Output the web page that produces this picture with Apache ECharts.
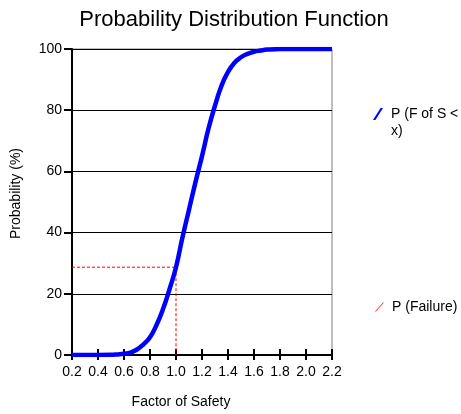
<!DOCTYPE html>
<html>
<head>
<meta charset="utf-8">
<script src="https://cdn.jsdelivr.net/npm/echarts@6/dist/echarts.min.js"></script>
<style>
html,body{margin:0;padding:0;background:#fff;}
#c{width:461px;height:414px;}
</style>
</head>
<body>
<div id="c"></div>
<script>
const titleText = 'Probability Distribution Function';
const xName = 'Factor of Safety';
const yName = 'Probability (%)';
const cdfName = 'P (F of S < x)';
const cdfLegendLine1 = 'P (F of S <';
const cdfLegendLine2 = 'x)';
const failName = 'P (Failure)';
const factorOfSafety = [0.2, 0.3, 0.4, 0.5, 0.55, 0.6, 0.65, 0.7, 0.75, 0.8, 0.85, 0.9, 0.95, 1.0, 1.05, 1.1, 1.15, 1.2, 1.25, 1.3, 1.35, 1.4, 1.45, 1.5, 1.55, 1.6, 1.65, 1.7, 1.8, 1.9, 2.0, 2.1, 2.2];
const probability = [0, 0, 0, 0.05, 0.2, 0.4, 0.8, 1.8, 3.5, 5.8, 9.8, 15, 21.5, 28.7, 38.5, 47.5, 56.5, 65, 74, 81.5, 88, 92.5, 95.5, 97.3, 98.4, 99.1, 99.5, 99.8, 100, 100, 100, 100, 100];
const failureX = [0.2, 1.0, 1.0];
const failureY = [28.7, 28.7, 0];

const chart = echarts.init(document.getElementById('c'));
const font = 'Liberation Sans, Arial, sans-serif';
chart.setOption({
  animation: false,
  backgroundColor: '#fff',
  textStyle: {fontFamily: font, color: '#000'},
  title: {
    text: titleText, left: 229, top: 4, textAlign: 'center',
    textStyle: {fontSize: 22, fontWeight: 'normal', color: '#000', fontFamily: font}
  },
  grid: {left: 72, right: 129, top: 49, bottom: 59, show: true, borderColor: '#808080', borderWidth: 1},
  legend: [
    {
      data: [{name: cdfName, icon: 'path://M0,12 L2.4,12 L10,0 L7.6,0 Z'}],
      left: 368, top: 100, itemWidth: 10, itemHeight: 12, itemGap: 8,
      formatter: function () { return cdfLegendLine1; },
      textStyle: {fontSize: 14, color: '#000', fontFamily: font, lineHeight: 18, padding: [0, 0, 0, 3]}
    },
    {
      data: [{name: failName, icon: 'path://M0,9 L0.9,9 L9,0 L8.1,0 Z'}],
      left: 370, top: 293, itemWidth: 9, itemHeight: 9, itemGap: 8,
      textStyle: {fontSize: 14, color: '#000', fontFamily: font, lineHeight: 18, padding: [0, 0, 0, 3]}
    }
  ],
  graphic: [
    {type: 'text', left: 391, top: 124, silent: true,
     style: {text: cdfLegendLine2, fontSize: 14, fill: '#000', fontFamily: font}}
  ],
  xAxis: [
    {
      type: 'value', min: 0.2, max: 2.2, interval: 0.2,
      name: xName, nameLocation: 'middle', nameGap: 40,
      nameTextStyle: {fontSize: 14, color: '#000', padding: [0, 42, 0, 0]},
      axisLine: {show: true, onZero: false, lineStyle: {color: '#000', width: 2}},
      axisTick: {show: true, length: 5, lineStyle: {color: '#000', width: 2}},
      axisLabel: {fontSize: 14, color: '#000', margin: 10, formatter: v => v.toFixed(1)},
      splitLine: {show: false}
    },
    {
      type: 'value', min: 0.2, max: 2.2, interval: 0.2, position: 'bottom',
      axisLine: {show: false},
      axisTick: {show: true, inside: true, length: 6, lineStyle: {color: '#000', width: 2}},
      axisLabel: {show: false}, splitLine: {show: false}
    }
  ],
  yAxis: {
    type: 'value', min: 0, max: 100, interval: 20,
    name: yName, nameLocation: 'middle', nameGap: 49,
    nameTextStyle: {fontSize: 14, color: '#000', padding: [0, 0, 0, 17]},
    axisLine: {show: true, lineStyle: {color: '#000', width: 2}},
    axisTick: {show: true, length: 8, lineStyle: {color: '#000', width: 2}},
    axisLabel: {fontSize: 14, color: '#000', margin: 10},
    splitLine: {show: true, lineStyle: {color: '#000', width: 1}}
  },
  series: [
    {
      name: failName, type: 'line', xAxisIndex: 0, showSymbol: false, symbol: 'none',
      data: failureX.map((x, i) => [x, failureY[i]]),
      lineStyle: {color: '#ff0000', width: 1, type: [3, 2]},
      itemStyle: {color: '#ff0000'}, z: 2
    },
    {
      name: cdfName, type: 'line', xAxisIndex: 0, smooth: true, showSymbol: false, symbol: 'none',
      data: factorOfSafety.map((x, i) => [x, probability[i]]),
      lineStyle: {color: '#0000ff', width: 4.5},
      itemStyle: {color: '#0000ff'}, z: 3
    }
  ]
});
</script>
</body>
</html>
